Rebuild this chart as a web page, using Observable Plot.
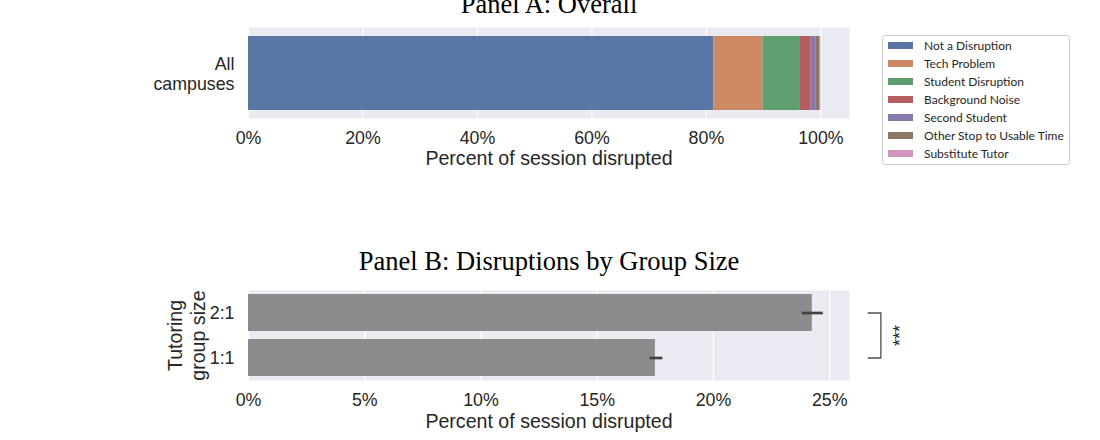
<!DOCTYPE html>
<html>
<head>
<meta charset="utf-8">
<script src="https://cdn.jsdelivr.net/npm/d3@7"></script>
<script src="https://cdn.jsdelivr.net/npm/@observablehq/plot@0.6"></script>
<style>
  body { margin: 0; background: #ffffff; }
  #figure { position: relative; width: 1100px; height: 440px; overflow: hidden; background: #ffffff; }
  #figure svg { position: absolute; left: 0; overflow: visible; }
  .legend {
    position: absolute; left: 882px; top: 35px; width: 188px; height: 130px;
    box-sizing: border-box; border: 1px solid #cccccc; border-radius: 3px;
    background: rgba(255, 255, 255, 0.8);
    font-family: Lato, "Open Sans", sans-serif; font-size: 12px; color: #262626;
  }
  .legend .row { position: absolute; left: 5px; height: 18px; display: flex; align-items: center; white-space: nowrap; }
  .legend .swatch { width: 25px; height: 7px; margin-right: 11px; flex: none; }
</style>
</head>
<body>
<div id="figure"></div>
<script>
// ---- Panel A: share of session time by disruption type (all campuses) ----
const campusCategories = ["All campuses"];
const campusTickLabels = ["All\ncampuses"];
const disruptionTypes = [
  "Not a Disruption",
  "Tech Problem",
  "Student Disruption",
  "Background Noise",
  "Second Student",
  "Other Stop to Usable Time",
  "Substitute Tutor"
];
const disruptionShares = [81.3, 8.6, 6.4, 2.0, 0.8, 0.75, 0.15];
const disruptionColors = ["#5875a4", "#cc8963", "#5f9e6e", "#b55d60", "#857aab", "#8d7866", "#d095bf"];
const overallTicks = [0, 20, 40, 60, 80, 100];

// ---- Panel B: percent of session disrupted by tutoring group size ----
const groupSizes = ["2:1", "1:1"];
const groupDisrupted = [24.25, 17.5];
const groupCiLow = [23.8, 17.25];
const groupCiHigh = [24.7, 17.8];
const groupTicks = [0, 5, 10, 15, 20, 25];
const significanceLabel = "***";

const axisTitle = "Percent of session disrupted";
const groupAxisTitle = "Tutoring\ngroup size";
const titleA = "Panel A: Overall";
const titleB = "Panel B: Disruptions by Group Size";

const sans = "'Liberation Sans', Arial, Helvetica, sans-serif";
const serif = "'Liberation Serif', 'Times New Roman', serif";
const textColor = "#262626";
const panelBg = "#eaeaf2";
const pct = (d) => `${d}%`;

const overallRows = disruptionTypes.map((type, i) => ({
  campus: campusCategories[0],
  type,
  share: disruptionShares[i]
}));

const groupRows = groupSizes.map((g, i) => ({
  group: g,
  value: groupDisrupted[i],
  lo: groupCiLow[i],
  hi: groupCiHigh[i]
}));

const baseStyle = {
  fontFamily: sans,
  fontSize: "17.8px",
  color: textColor,
  background: "transparent",
  overflow: "visible"
};

const figure = document.getElementById("figure");

// Panel A
const chartA = Plot.plot({
  width: 1100,
  height: 180,
  marginTop: 27,
  marginBottom: 62,
  marginLeft: 248,
  marginRight: 251,
  style: baseStyle,
  x: {
    domain: [0, 105],
    ticks: overallTicks,
    tickFormat: pct,
    tickSize: 0,
    tickPadding: 13,
    label: null
  },
  y: { domain: campusCategories, padding: 0.1, axis: null },
  color: { domain: disruptionTypes, range: disruptionColors },
  marks: [
    Plot.frame({ fill: panelBg, stroke: "none" }),
    Plot.ruleX(overallTicks, { stroke: "white", strokeWidth: 1.3 }),
    Plot.barX(overallRows, Plot.stackX({ x: "share", y: "campus", fill: "type", order: null })),
    Plot.text(campusCategories, {
      x: 0, y: (d) => d, text: (d, i) => campusTickLabels[i],
      textAnchor: "end", dx: -14, lineHeight: 1.1, fontSize: 17.8, fill: textColor
    }),
    Plot.text([axisTitle], {
      text: (d) => d, frameAnchor: "bottom", dy: 46, lineAnchor: "bottom",
      fontSize: 19.6, fill: textColor
    }),
    Plot.text([titleA], {
      text: (d) => d, frameAnchor: "top", dy: -15, lineAnchor: "bottom",
      textAnchor: "middle", fontSize: 26.5, fontFamily: serif, fill: "#000000"
    })
  ]
});
chartA.style.top = "0px";
figure.appendChild(chartA);

// Panel B
const bracketX = 27.2;      // position of the significance bracket (percent units)
const bracketTick = 0.55;   // length of the bracket's end ticks (percent units)
const starsX = 28.05;
const bracketPoints = [
  { x: bracketX - bracketTick, g: groupSizes[0] },
  { x: bracketX, g: groupSizes[0] },
  { x: bracketX, g: groupSizes[1] },
  { x: bracketX - bracketTick, g: groupSizes[1] }
];

const chartB = Plot.plot({
  width: 1100,
  height: 260,
  marginTop: 110,
  marginBottom: 60,
  marginLeft: 248,
  marginRight: 251,
  style: baseStyle,
  x: {
    domain: [0, 25.85],
    ticks: groupTicks,
    tickFormat: pct,
    tickSize: 0,
    tickPadding: 13,
    label: null
  },
  y: { domain: groupSizes, paddingInner: 0.17, paddingOuter: 0.085, tickSize: 0, tickPadding: 14, label: null },
  marks: [
    Plot.frame({ fill: panelBg, stroke: "none" }),
    Plot.ruleX(groupTicks, { stroke: "white", strokeWidth: 1.3 }),
    Plot.barX(groupRows, { x: "value", y: "group", fill: "#8c8c8c" }),
    Plot.link(groupRows, { x1: "lo", x2: "hi", y1: "group", y2: "group", stroke: "#424242", strokeWidth: 2.7 }),
    Plot.line(bracketPoints, { x: "x", y: "g", stroke: "#4d4d4d", strokeWidth: 1.3, curve: "linear" }),
    Plot.text([significanceLabel], {
      text: (d) => d, x: starsX, frameAnchor: "middle", rotate: -90,
      textAnchor: "middle", fontSize: 18, fill: textColor
    }),
    Plot.text([groupAxisTitle], {
      text: (d) => d, frameAnchor: "left", dx: -62, rotate: -90,
      textAnchor: "middle", lineAnchor: "middle",
      lineHeight: 1.15, fontSize: 19.6, fill: textColor
    }),
    Plot.text([axisTitle], {
      text: (d) => d, frameAnchor: "bottom", dy: 47, lineAnchor: "bottom",
      fontSize: 19.6, fill: textColor
    }),
    Plot.text([titleB], {
      text: (d) => d, frameAnchor: "top", dy: -21, lineAnchor: "bottom",
      textAnchor: "middle", fontSize: 26.5, fontFamily: serif, fill: "#000000"
    })
  ]
});
chartB.style.top = "180px";
figure.appendChild(chartB);

// Legend for panel A
const legend = document.createElement("div");
legend.className = "legend";
disruptionTypes.forEach((type, i) => {
  const row = document.createElement("div");
  row.className = "row";
  row.style.top = `${i * 18}px`;
  const sw = document.createElement("span");
  sw.className = "swatch";
  sw.style.background = disruptionColors[i];
  const label = document.createElement("span");
  label.textContent = type;
  row.appendChild(sw);
  row.appendChild(label);
  legend.appendChild(row);
});
figure.appendChild(legend);
</script>
</body>
</html>
